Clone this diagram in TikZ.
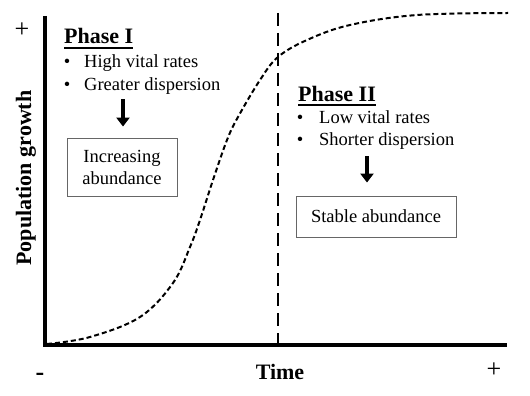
\documentclass[tikz,border=0pt]{standalone}
\usepackage{fontspec}
\setmainfont{Liberation Serif}
\usepackage{tikz}
\usetikzlibrary{positioning,arrows.meta}

\tikzset{
  txt/.style={inner sep=0pt, anchor=base west, font=\fontsize{18.5}{22}\selectfont},
  head/.style={inner sep=0pt, font=\fontsize{22}{26}\selectfont\bfseries},
  sign/.style={inner sep=0pt, anchor=base, font=\fontsize{26}{30}\selectfont},
  phasebox/.style={draw=black!60, line width=0.9pt, align=center, inner sep=0pt,
    font=\fontsize{18.5}{22}\selectfont},
  downarrow/.style={line width=3.4pt, -{Triangle[length=9pt,width=13pt]}},
  axis/.style={line width=3.2pt},
}

\begin{document}
\begin{tikzpicture}[x=1pt,y=-1pt]
    \useasboundingbox (0,0) rectangle (530,396);
    % axes
    \coordinate (origin) at (45,345);
    \coordinate (ytop) at (45,16);
    \coordinate (xend) at (507,345);
    \draw[axis] (ytop) -- (origin) -- (xend);
    \node[head, rotate=90] (ylab) at (26,178) {Population growth};
    \node[head] (xlab) at (280,372) {Time};
    \node[head, anchor=base, font=\fontsize{26}{30}\selectfont\bfseries] (xmin) at (40,380) {-};
    \node[sign] (ymax) at (22,38) {+};
    \node[sign] (xmax) at (494,377) {+};
    % growth curve and phase limit
    \draw[line width=2pt, dash pattern=on 5pt off 3pt] plot[smooth, tension=0.6] coordinates {
      (47,344) (90,337) (140,317) (173,283) (190,247) (200,220) (213,180)
      (227,140) (238,117) (260,80) (278,57) (307,40) (350,25) (417,15) (508,13)};
    \coordinate (mid) at (278,13);
    \draw[line width=1.6pt, dash pattern=on 13pt off 7pt] (mid) -- (mid |- origin);
    % phase I
    \node[head, anchor=base west] (phaseI) at (64,44) {Phase I};
    \draw[line width=1.4pt] ([yshift=-4pt]phaseI.base west) -- ([yshift=-4pt]phaseI.base east);
    \node[txt, anchor=base] (bulI1) at (67,67) {•};
    \node[txt] (itemI1) at (84,67) {High vital rates};
    \node[txt, anchor=base] (bulI2) at (67,90) {•};
    \node[txt] (itemI2) at (84,90) {Greater dispersion};
    \node[phasebox, minimum width=110pt, minimum height=58pt] (boxI) at (122,167) {Increasing\\abundance};
    \coordinate (arrI) at (123,99);
    \draw[downarrow] (arrI) -- ([yshift=11pt]boxI.north -| arrI);
    % phase II
    \node[head, anchor=base west] (phaseII) at (298,101) {Phase II};
    \draw[line width=1.4pt] ([yshift=-4pt]phaseII.base west) -- ([yshift=-4pt]phaseII.base east);
    \node[txt, anchor=base] (bulII1) at (300,123) {•};
    \node[txt] (itemII1) at (319,123) {Low vital rates};
    \node[txt, anchor=base] (bulII2) at (300,145) {•};
    \node[txt] (itemII2) at (319,145) {Shorter dispersion};
    \node[phasebox, minimum width=160pt, minimum height=41pt] (boxII) at (376,216.5) {Stable abundance};
    \coordinate (arrII) at (367,156);
    \draw[downarrow] (arrII) -- ([yshift=13pt]boxII.north -| arrII);
\end{tikzpicture}
\end{document}
